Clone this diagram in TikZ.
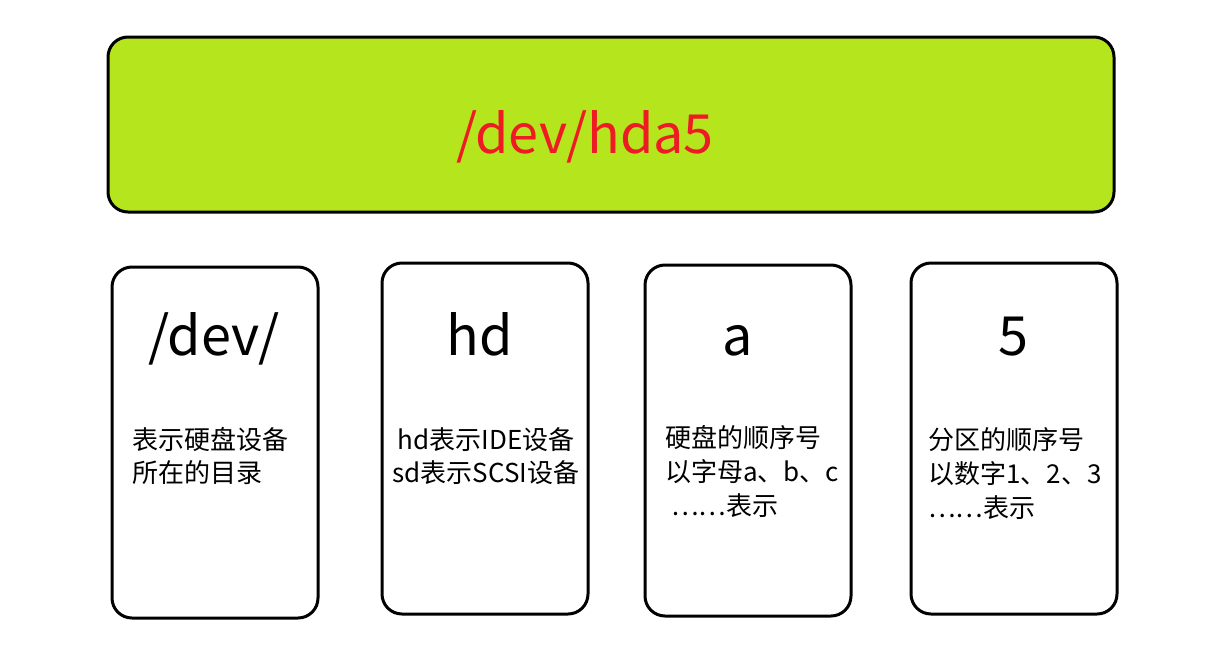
\documentclass[tikz,border=0pt]{standalone}
\usepackage{fontspec}
\setmainfont{Noto Sans CJK SC}
\definecolor{lime}{HTML}{B5E61D}
\definecolor{pred}{HTML}{ED1C24}
\tikzset{
  card/.style={draw=black, line width=3pt, rounded corners=20pt, inner sep=0pt},
  big/.style={font=\fontsize{54}{60}\selectfont, inner sep=0pt, anchor=base},
  small/.style={font=\fontsize{26}{33}\selectfont, inner sep=0pt, align=left},
}
\begin{document}
\begin{tikzpicture}[x=1pt,y=-1pt]
\useasboundingbox (0,0) rectangle (1212,648);
\node[card, fill=lime, minimum width=1006pt, minimum height=175pt] (top) at (611,124.5) {};
\node[big, text=pred] (toptext) at (585,153) {/dev/hda5};

\node[card, minimum width=206pt, minimum height=351pt] (b1) at (215,442.5) {};
\node[card, minimum width=206pt, minimum height=351pt] (b2) at (485,438.5) {};
\node[card, minimum width=206pt, minimum height=351pt] (b3) at (748,440.5) {};
\node[card, minimum width=206pt, minimum height=351pt] (b4) at (1014,438.5) {};

\node[big] (t1) at (214,355) {/dev/};
\node[big] (t2) at (480,355) {hd};
\node[big] (t3) at (738,355) {a};
\node[big] (t4) at (1013,355) {5};

\node[small, anchor=north west] (d1) at (132,427) {表示硬盘设备\\所在的目录};
\node[small, anchor=north, align=center] (d2) at (486,427) {hd表示IDE设备\\sd表示SCSI设备};
\node[small, anchor=north west, font=\fontsize{26}{34}\selectfont] (d3) at (665,425) {硬盘的顺序号\\以字母a、b、c\\\hspace*{6pt}……表示};
\node[small, anchor=north west, font=\fontsize{26}{34}\selectfont] (d4) at (928,427) {分区的顺序号\\以数字1、2、3\\……表示};
\end{tikzpicture}
\end{document}
